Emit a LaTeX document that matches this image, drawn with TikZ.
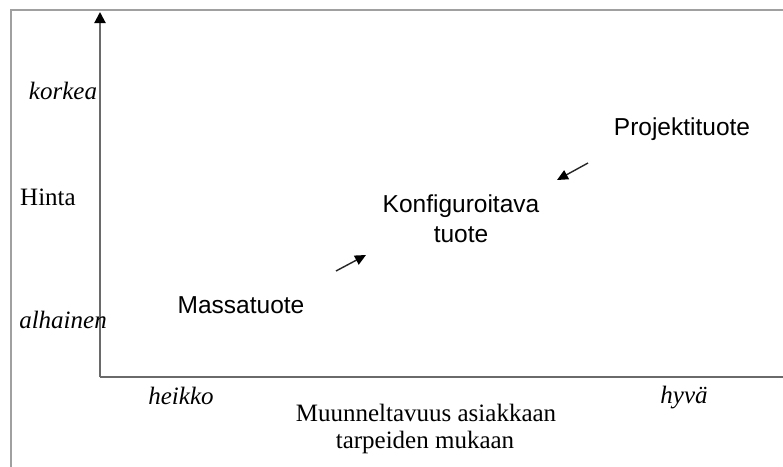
\documentclass[tikz,border=0pt]{standalone}
\usepackage{fontspec}
\setmainfont{Liberation Serif}
\newfontfamily\arialfont{Liberation Sans}
\usetikzlibrary{arrows.meta}
\definecolor{framegray}{HTML}{A0A0A0}
\definecolor{axisgray}{HTML}{6A6A6A}
\tikzset{
  serifl/.style={font=\fontsize{25}{27}\selectfont, inner sep=0pt, anchor=base},
  serifi/.style={font=\fontsize{25}{27}\selectfont\itshape, inner sep=0pt, anchor=base},
  sansl/.style={font=\arialfont\fontsize{24.5}{30}\selectfont, inner sep=0pt, anchor=base},
  axisline/.style={draw=axisgray, line width=2pt, -{Triangle[length=11pt,width=11pt,color=black]}},
  smallarrow/.style={draw=black!85, line width=1.4pt, -{Triangle[length=11pt,width=10pt,color=black]}}
}
\begin{document}
\begin{tikzpicture}[x=1pt,y=-1pt]
\useasboundingbox (0,0) rectangle (783,466);
\clip (0,0) rectangle (783,466);
\fill[white] (0,0) rectangle (783,466);
\draw[framegray, line width=2pt] (11,10) rectangle (820,500);
% axes
\coordinate (O) at (100,377);
\coordinate (Ytop) at (100,12);
\coordinate (Xend) at (794,377);
\draw[axisline] (O) -- (Ytop);
\draw[axisline] (O) -- (Xend);
% labels
\node[serifi] (korkea) at (63,99) {korkea};
\node[serifl, anchor=base west] (hinta) at (20,205) {Hinta};
\node[serifi] (alhainen) at (63,328) {alhainen};
\node[serifi] (heikko) at (181,404) {heikko};
\node[serifi] (hyva) at (684,403) {hyvä};
\node[serifl] (xl1) at (426,421) {Muunneltavuus asiakkaan};
\node[serifl] (xl2) at (425,448) {tarpeiden mukaan};
\node[sansl] (massa) at (241,313) {Massatuote};
\node[sansl] (konf1) at (461,212) {Konfiguroitava};
\node[sansl] (konf2) at (461,242) {tuote};
\node[sansl] (proj) at (682,135) {Projektituote};
% small arrows
\coordinate (a1s) at (336,271);
\coordinate (a1e) at (366,255);
\coordinate (a2s) at (588,163);
\coordinate (a2e) at (557,180);
\draw[smallarrow] (a1s) -- (a1e);
\draw[smallarrow] (a2s) -- (a2e);
\end{tikzpicture}
\end{document}
